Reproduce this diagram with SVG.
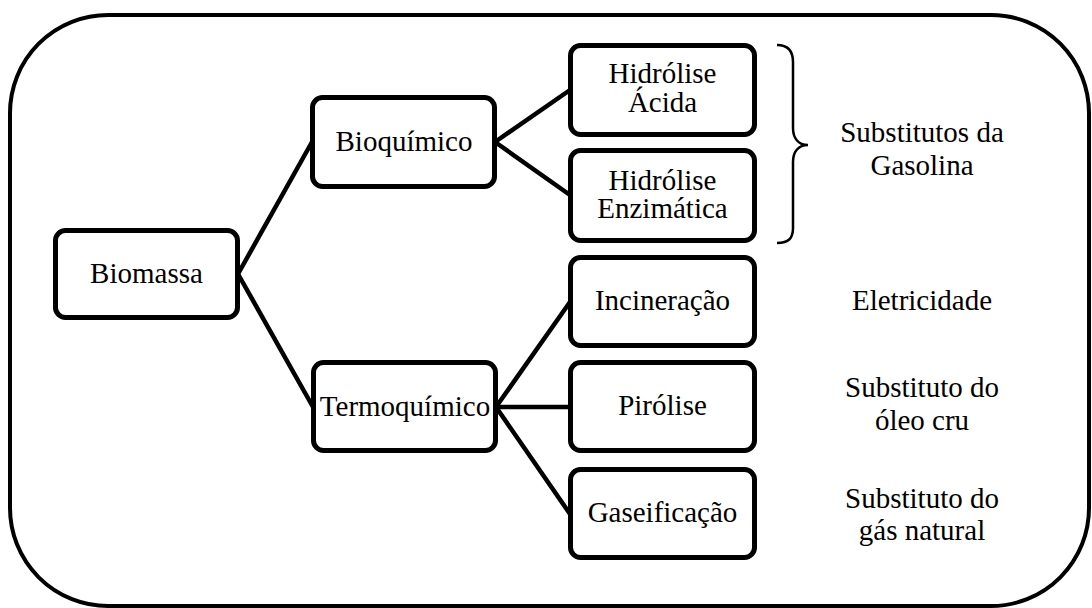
<svg xmlns="http://www.w3.org/2000/svg" width="1092" height="608" viewBox="0 0 1092 608">
  <style>
    .frame { fill: none; stroke: #000; stroke-width: 4; }
    .box { fill: #fff; stroke: #000; stroke-width: 5; }
    .link { stroke: #000; stroke-width: 4.5; fill: none; stroke-linecap: round; }
    .brace { fill: none; stroke: #000; stroke-width: 2.5; }
  </style>
  <rect class="frame" x="10" y="15" width="1079" height="591" rx="98" ry="98"/>
  <g id="connectors">
    <line class="link" x1="238" y1="274" x2="312" y2="142"/>
    <line class="link" x1="238" y1="274" x2="313" y2="407"/>
    <line class="link" x1="495" y1="142" x2="570" y2="90"/>
    <line class="link" x1="495" y1="142" x2="570" y2="195"/>
    <line class="link" x1="496" y1="407" x2="570" y2="302"/>
    <line class="link" x1="496" y1="407" x2="570" y2="407"/>
    <line class="link" x1="496" y1="407" x2="570" y2="514"/>
  </g>
  <g id="biomassa">
    <rect class="box" x="55.5" y="230.5" width="182" height="87" rx="10"/>
    <text x="146.5" y="283" font-size="29" font-family="Liberation Serif" text-anchor="middle">Biomassa</text>
  </g>
  <g id="bioquimico">
    <rect class="box" x="312.5" y="97.5" width="182" height="89" rx="10"/>
    <text x="404" y="151" font-size="29" font-family="Liberation Serif" text-anchor="middle">Bioquímico</text>
  </g>
  <g id="termoquimico">
    <rect class="box" x="313.5" y="362.5" width="182" height="88" rx="10"/>
    <text x="405" y="416" font-size="29" font-family="Liberation Serif" text-anchor="middle">Termoquímico</text>
  </g>
  <g id="hidrolise-acida">
    <rect class="box" x="570.5" y="45.5" width="184" height="89" rx="10"/>
    <text x="662.5" y="83" font-size="29" font-family="Liberation Serif" text-anchor="middle">Hidrólise</text>
    <text x="662.5" y="112" font-size="29" font-family="Liberation Serif" text-anchor="middle">Ácida</text>
  </g>
  <g id="hidrolise-enzimatica">
    <rect class="box" x="570.5" y="150.5" width="184" height="90" rx="10"/>
    <text x="662.5" y="190" font-size="29" font-family="Liberation Serif" text-anchor="middle">Hidrólise</text>
    <text x="662.5" y="218" font-size="29" font-family="Liberation Serif" text-anchor="middle">Enzimática</text>
  </g>
  <g id="incineracao">
    <rect class="box" x="570.5" y="257.5" width="184" height="88" rx="10"/>
    <text x="662.5" y="310" font-size="29" font-family="Liberation Serif" text-anchor="middle">Incineração</text>
  </g>
  <g id="pirolise">
    <rect class="box" x="570.5" y="362.5" width="184" height="88" rx="10"/>
    <text x="662.5" y="415" font-size="29" font-family="Liberation Serif" text-anchor="middle">Pirólise</text>
  </g>
  <g id="gaseificacao">
    <rect class="box" x="570.5" y="469.5" width="184" height="88" rx="10"/>
    <text x="662.5" y="522" font-size="29" font-family="Liberation Serif" text-anchor="middle">Gaseificação</text>
  </g>
  <path class="brace" d="M777,45 C789,45 793,52 793,62 L793,128 C793,138 798,145 808,145 C798,145 793,152 793,162 L793,228 C793,238 789,243 777,243"/>
  <g id="produtos">
    <text x="922" y="142" font-size="29" font-family="Liberation Serif" text-anchor="middle">Substitutos da</text>
    <text x="922" y="175" font-size="29" font-family="Liberation Serif" text-anchor="middle">Gasolina</text>
    <text x="922" y="310" font-size="29" font-family="Liberation Serif" text-anchor="middle">Eletricidade</text>
    <text x="922" y="397" font-size="29" font-family="Liberation Serif" text-anchor="middle">Substituto do</text>
    <text x="922" y="430" font-size="29" font-family="Liberation Serif" text-anchor="middle">óleo cru</text>
    <text x="922" y="508" font-size="29" font-family="Liberation Serif" text-anchor="middle">Substituto do</text>
    <text x="922" y="540" font-size="29" font-family="Liberation Serif" text-anchor="middle">gás natural</text>
  </g>
</svg>
